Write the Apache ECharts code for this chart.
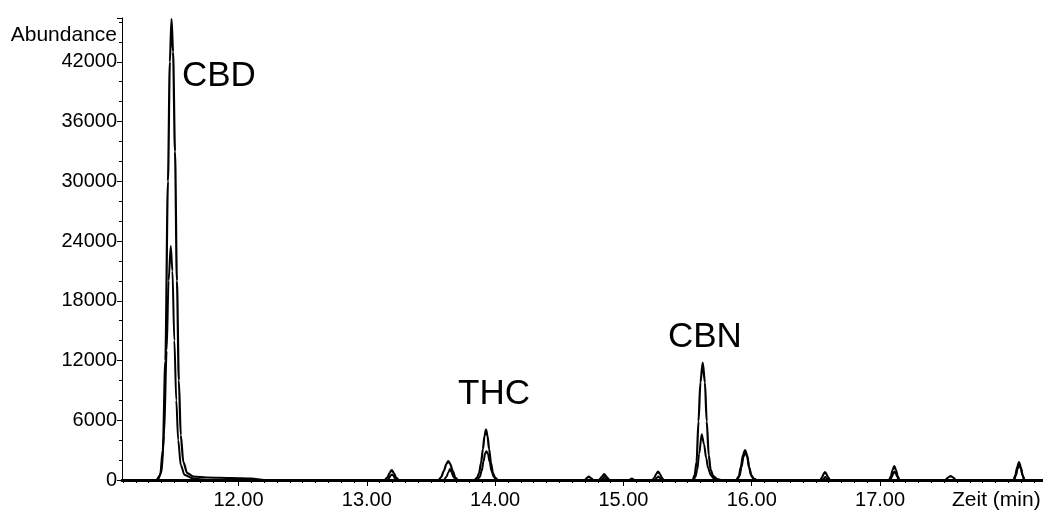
<!DOCTYPE html>
<html>
<head>
<meta charset="utf-8">
<title>Chromatogramm CBD / THC / CBN</title>
<script src="https://cdn.jsdelivr.net/npm/echarts@6/dist/echarts.min.js"></script>
<style>
  html, body { margin: 0; padding: 0; background: #fff; }
  #chart { width: 1043px; height: 512px; }
</style>
</head>
<body>
<div id="chart"></div>
<script>
// [Zeit (min), Abundance], upper trace
const traceHigh = [
  [11.09, 0], [11.36, 0], [11.39, 500], [11.41, 3000], [11.43, 12000], [11.45, 30000], [11.465, 42000],
  [11.478, 46300], [11.49, 43000], [11.505, 33000], [11.52, 20000], [11.535, 10000], [11.55, 4500],
  [11.57, 1800], [11.60, 700], [11.65, 350], [11.75, 250], [11.95, 200], [12.10, 150], [12.20, 0],
  [13.14, 0], [13.16, 250], [13.177, 700], [13.194, 1000], [13.211, 700], [13.228, 250], [13.25, 0],
  [13.56, 0], [13.58, 300], [13.60, 900], [13.62, 1600], [13.635, 1900], [13.65, 1600], [13.67, 900], [13.69, 250], [13.71, 0],
  [13.84, 0], [13.86, 250], [13.875, 700], [13.89, 1700], [13.905, 3100], [13.917, 4400], [13.929, 5050],
  [13.941, 4400], [13.953, 3100], [13.968, 1700], [13.983, 700], [14.00, 250], [14.02, 0],
  [14.70, 0], [14.715, 200], [14.73, 350], [14.745, 200], [14.765, 0],
  [14.81, 0], [14.83, 300], [14.85, 600], [14.87, 300], [14.89, 0],
  [15.045, 0], [15.065, 150], [15.085, 0],
  [15.225, 0], [15.24, 200], [15.255, 600], [15.27, 850], [15.285, 600], [15.30, 200], [15.315, 0],
  [15.54, 0], [15.555, 500], [15.57, 1800], [15.585, 5900], [15.60, 9800], [15.618, 11800], [15.635, 9800],
  [15.649, 5900], [15.665, 2500], [15.68, 1000], [15.70, 400], [15.73, 100], [15.76, 0],
  [15.88, 0], [15.90, 400], [15.915, 1300], [15.932, 2500], [15.948, 3000], [15.964, 2500], [15.98, 1300],
  [15.995, 500], [16.015, 150], [16.04, 0],
  [16.535, 0], [16.55, 300], [16.56, 600], [16.571, 800], [16.582, 600], [16.593, 300], [16.61, 0],
  [17.07, 0], [17.085, 400], [17.098, 1000], [17.111, 1400], [17.124, 1000], [17.137, 400], [17.152, 0],
  [17.51, 0], [17.53, 250], [17.55, 400], [17.57, 250], [17.59, 0],
  [18.04, 0], [18.055, 500], [18.069, 1300], [18.083, 1800], [18.097, 1300], [18.111, 500], [18.126, 0],
  [18.27, 0]
];
// lower trace
const traceLow = [
  [11.09, 0], [11.37, 0], [11.40, 800], [11.42, 4500], [11.44, 13000], [11.455, 20000], [11.472, 23500],
  [11.485, 21000], [11.50, 14000], [11.515, 8000], [11.53, 4000], [11.55, 1500], [11.58, 500], [11.65, 150], [11.75, 0],
  [13.16, 0], [13.175, 200], [13.185, 450], [13.196, 550], [13.207, 450], [13.218, 200], [13.235, 0],
  [13.60, 0], [13.62, 300], [13.635, 750], [13.648, 1100], [13.66, 800], [13.675, 300], [13.695, 0],
  [13.86, 0], [13.88, 300], [13.895, 900], [13.91, 1900], [13.922, 2650], [13.932, 2900], [13.944, 2600],
  [13.958, 1800], [13.972, 900], [13.99, 300], [14.01, 0],
  [14.825, 0], [14.84, 150], [14.85, 300], [14.862, 150], [14.878, 0],
  [15.245, 0], [15.26, 200], [15.272, 350], [15.285, 200], [15.30, 0],
  [15.545, 0], [15.56, 300], [15.575, 1000], [15.59, 2600], [15.61, 4600], [15.628, 3600], [15.645, 2200],
  [15.66, 1200], [15.68, 500], [15.70, 200], [15.73, 0],
  [15.885, 0], [15.905, 400], [15.92, 1300], [15.936, 2300], [15.95, 2800], [15.965, 2300], [15.98, 1200], [15.998, 400], [16.02, 0],
  [16.55, 0], [16.562, 150], [16.573, 300], [16.585, 150], [16.597, 0],
  [17.08, 0], [17.092, 300], [17.103, 650], [17.113, 850], [17.123, 650], [17.134, 300], [17.146, 0],
  [18.045, 0], [18.059, 450], [18.072, 1100], [18.085, 1500], [18.098, 1100], [18.111, 450], [18.124, 0],
  [18.27, 0]
];
const xLabels = [12, 13, 14, 15, 16, 17];
const xMin = 11.092;
const xMax = 18.27;
const yMax = 46400;
const yStep = 6000;

const font = "'Liberation Sans', Arial, sans-serif";

// small ticks every 0.1 min
const minorX = [];
for (let v = 11.1; v < xMax; v += 0.1) minorX.push(Math.round(v * 10) / 10);

let mychart = echarts.init(document.getElementById("chart"));
const option = {
  animation: false,
  backgroundColor: "#fff",
  grid: { left: 122, right: 0, top: 18, bottom: 32 },
  xAxis: [
    {
      type: "value",
      position: "bottom",
      min: xMin,
      max: xMax,
      axisLine: { show: true, lineStyle: { color: "#000", width: 3 } },
      axisTick: { show: true, customValues: xLabels, length: 6, lineStyle: { color: "#000", width: 1 } },
      axisLabel: {
        customValues: xLabels,
        margin: 10,
        color: "#000",
        fontSize: 20,
        fontFamily: font,
        formatter: (v) => v.toFixed(2),
      },
      splitLine: { show: false },
    },
    {
      type: "value",
      position: "bottom",
      min: xMin,
      max: xMax,
      axisLine: { show: false },
      axisTick: { show: true, customValues: minorX, length: 3, lineStyle: { color: "#000", width: 1 } },
      axisLabel: { show: false },
      splitLine: { show: false },
    },
  ],
  yAxis: {
    type: "value",
    min: 0,
    max: yMax,
    interval: yStep,
    axisLine: { show: true, lineStyle: { color: "#000", width: 1 } },
    axisTick: { show: true, length: 5, lineStyle: { color: "#000" } },
    minorTick: { show: true, splitNumber: 3, length: 3, lineStyle: { color: "#000" } },
    axisLabel: {
      margin: 5,
      color: "#000",
      fontSize: 20,
      fontFamily: font,
      showMaxLabel: false,
      padding: [3, 0, 0, 0],
      formatter: (v) => String(v),
    },
    splitLine: { show: false },
  },
  series: [
    {
      name: "Trace 1",
      type: "line",
      data: traceHigh,
      showSymbol: false,
      smooth: 0.3,
      smoothMonotone: "x",
      lineStyle: { color: "#000", width: 2.2 },
      z: 3,
    },
    {
      name: "Trace 2",
      type: "line",
      data: traceLow,
      showSymbol: false,
      smooth: 0.3,
      smoothMonotone: "x",
      lineStyle: { color: "#000", width: 2 },
      z: 3,
    },
  ],
  graphic: [
    { type: "text", right: 926, top: 25, style: { text: "Abundance", font: "21px " + font, fill: "#000" } },
    { type: "text", left: 952, top: 490, style: { text: "Zeit (min)", font: "21px " + font, fill: "#000" } },
    { type: "text", left: 182, top: 59, style: { text: "CBD", font: "35px " + font, fill: "#000" } },
    { type: "text", left: 458, top: 377, style: { text: "THC", font: "35px " + font, fill: "#000" } },
    { type: "text", left: 668, top: 320, style: { text: "CBN", font: "35px " + font, fill: "#000" } },
  ],
};
mychart.setOption(option);
</script>
</body>
</html>
